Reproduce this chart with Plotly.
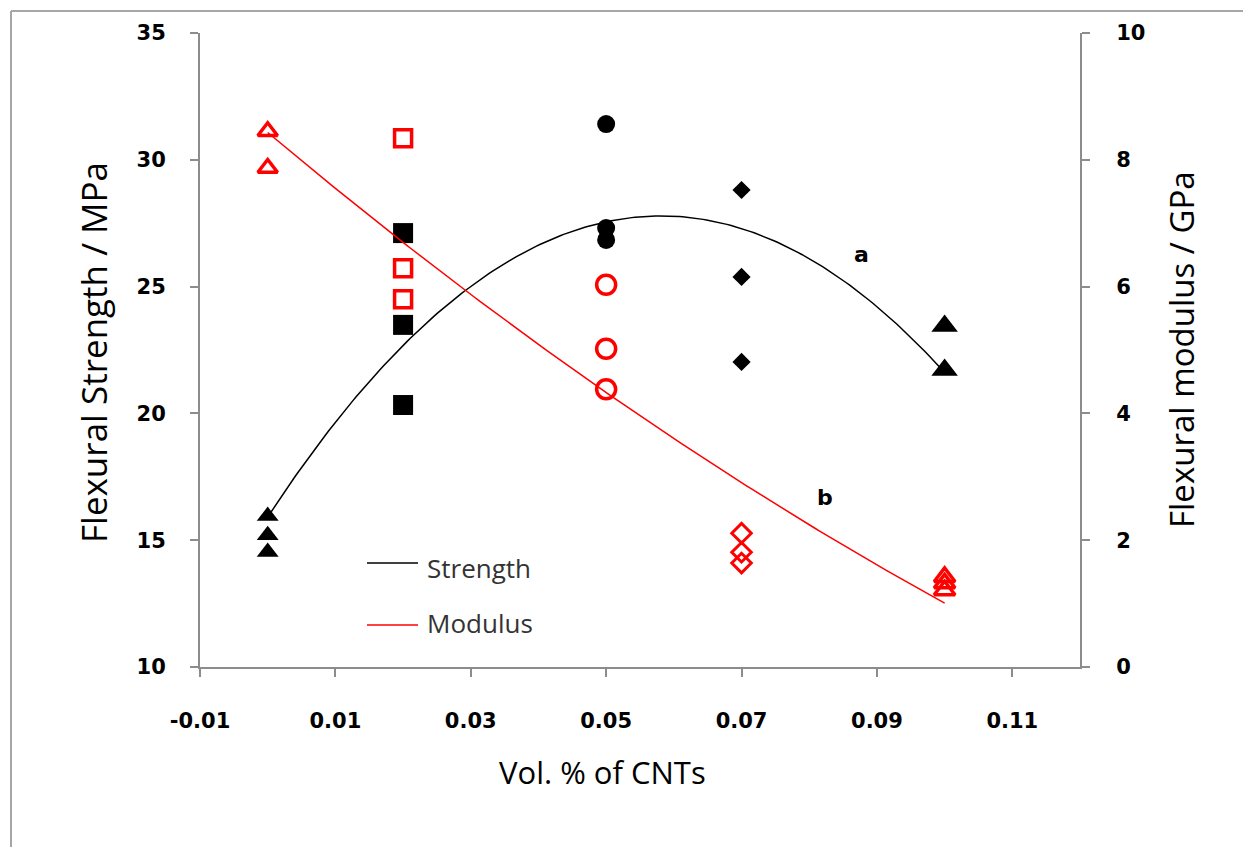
import numpy as np
import plotly.graph_objects as go

# ---------------- data ----------------
# Flexural strength (MPa), left axis
s_x_tri0 = [0, 0, 0]
s_y_tri0 = [15.95, 15.2, 14.53]
s_x_sq = [0.02, 0.02, 0.02]
s_y_sq = [27.11, 23.49, 20.33]
s_x_ci = [0.05, 0.05, 0.05]
s_y_ci = [31.41, 27.31, 26.84]
s_x_di = [0.07, 0.07, 0.07]
s_y_di = [28.81, 25.38, 22.03]
s_x_tri1 = [0.1, 0.1]
s_y_tri1 = [23.45, 21.71]

# Flexural modulus (GPa), right axis
m_x_tri0 = [0, 0]
m_y_tri0 = [8.45, 7.87]
m_x_sq = [0.02, 0.02, 0.02]
m_y_sq = [8.34, 6.29, 5.80]
m_x_ci = [0.05, 0.05, 0.05]
m_y_ci = [6.03, 5.02, 4.38]
m_x_di = [0.07, 0.07, 0.07]
m_y_di = [2.11, 1.81, 1.64]
m_x_tri1 = [0.1, 0.1, 0.1]
m_y_tri1 = [1.42, 1.32, 1.21]

x_ticks = [-0.01, 0.01, 0.03, 0.05, 0.07, 0.09, 0.11]
x_tick_text = ["-0.01", "0.01", "0.03", "0.05", "0.07", "0.09", "0.11"]
y1_ticks = [10, 15, 20, 25, 30, 35]
y2_ticks = [0, 2, 4, 6, 8, 10]

# ---------------- trend lines (2nd order polynomial fits) ----------------
sx_all = s_x_tri0 + s_x_sq + s_x_ci + s_x_di + s_x_tri1
sy_all = s_y_tri0 + s_y_sq + s_y_ci + s_y_di + s_y_tri1
mx_all = m_x_tri0 + m_x_sq + m_x_ci + m_x_di + m_x_tri1
my_all = m_y_tri0 + m_y_sq + m_y_ci + m_y_di + m_y_tri1
s_fit = np.poly1d(np.polyfit(sx_all, sy_all, 2))
m_fit = np.poly1d(np.polyfit(mx_all, my_all, 2))
xf = np.linspace(min(sx_all), max(sx_all), 200)

fig = go.Figure()

BLACK = "#000000"
RED = "#ff0000"

def filled(x, y, symbol, size):
    fig.add_trace(go.Scatter(x=x, y=y, mode="markers", showlegend=False,
                             marker=dict(symbol=symbol, size=size, color=BLACK,
                                         line=dict(width=0))))

def hollow(x, y, symbol, size, lw=3.5):
    fig.add_trace(go.Scatter(x=x, y=y, mode="markers", yaxis="y2", showlegend=False,
                             marker=dict(symbol=symbol + "-open", size=size, color=RED,
                                         line=dict(width=lw, color=RED))))

# trend lines
fig.add_trace(go.Scatter(x=xf, y=s_fit(xf), mode="lines", name="Strength",
                         showlegend=False, line=dict(color=BLACK, width=1.5)))
fig.add_trace(go.Scatter(x=xf, y=m_fit(xf), mode="lines", name="Modulus", yaxis="y2",
                         showlegend=False, line=dict(color=RED, width=1.5)))

filled(s_x_tri0, s_y_tri0, "triangle-up", 19)
filled(s_x_sq, s_y_sq, "square", 20)
filled(s_x_ci, s_y_ci, "circle", 18)
filled(s_x_di, s_y_di, "diamond", 14)
filled(s_x_tri1, s_y_tri1, "triangle-up", 23)

hollow(m_x_tri0, m_y_tri0, "triangle-up", 17)
hollow(m_x_sq, m_y_sq, "square", 17)
hollow(m_x_ci, m_y_ci, "circle", 19)
hollow(m_x_di, m_y_di, "diamond", 15, 3)
hollow(m_x_tri1, m_y_tri1, "triangle-up", 18)

AX = "#8c8c8c"
TICKFONT = dict(family="DejaVu Sans", size=21, color="#000000", weight="bold")

fig.update_layout(
    width=1243, height=847,
    margin=dict(l=200, r=163, t=33, b=180),
    paper_bgcolor="white", plot_bgcolor="white",
    xaxis=dict(range=[-0.01, 0.12], tickvals=x_ticks, ticktext=x_tick_text,
               showline=True, linecolor=AX, linewidth=2, ticks="outside",
               ticklen=8, tickwidth=2, tickcolor=AX, showgrid=False, zeroline=False,
               tickfont=TICKFONT, ticklabelstandoff=26),
    yaxis=dict(range=[10, 35], tickvals=y1_ticks, showline=True, linecolor=AX,
               linewidth=2, ticks="outside", ticklen=8, tickwidth=2, tickcolor=AX,
               showgrid=False, zeroline=False, tickfont=TICKFONT, ticklabelstandoff=20),
    yaxis2=dict(range=[0, 10], tickvals=y2_ticks, overlaying="y", side="right",
                anchor="x", showline=True, linecolor=AX, linewidth=2, ticks="outside",
                ticklen=8, tickwidth=2, tickcolor=AX, showgrid=False, zeroline=False,
                tickfont=TICKFONT, ticklabelstandoff=22),
    showlegend=False,
)

LTFONT = dict(family="Open Sans", size=35, color="#000000")
RTFONT = dict(family="Open Sans", size=33, color="#000000")
HFONT = dict(family="Open Sans", size=31, color="#000000")
LFONT = dict(family="Open Sans", size=26, color="#333333")
ann = [
    dict(text="Vol. % of CNTs", x=(602 - 200) / 880, y=(667 - 772) / 634, xref="paper",
         yref="paper", showarrow=False, font=HFONT, xanchor="center", yanchor="middle"),
    dict(text="Flexural Strength / MPa", x=(93 - 200) / 880, y=(667 - 353) / 634,
         xref="paper", yref="paper", showarrow=False, font=LTFONT, textangle=-90,
         xanchor="center", yanchor="middle"),
    dict(text="Flexural modulus / GPa", x=(1181 - 200) / 880, y=(667 - 350) / 634,
         xref="paper", yref="paper", showarrow=False, font=RTFONT, textangle=-90,
         xanchor="center", yanchor="middle"),
    dict(text="a", x=0.0877, y=26.25, xref="x", yref="y", showarrow=False,
         font=dict(family="DejaVu Sans", size=22, color="#000", weight="bold")),
    dict(text="b", x=0.0823, y=16.7, xref="x", yref="y", showarrow=False,
         font=dict(family="DejaVu Sans", size=22, color="#000", weight="bold")),
    dict(text="Strength", x=(425 - 200) / 880, y=(667 - 568) / 634, xref="paper",
         yref="paper", showarrow=False, xanchor="left", yanchor="middle", font=LFONT),
    dict(text="Modulus", x=(425 - 200) / 880, y=(667 - 623) / 634, xref="paper",
         yref="paper", showarrow=False, xanchor="left", yanchor="middle", font=LFONT),
]
fig.update_layout(annotations=ann)

BORDER = dict(color="#a6a6a6", width=2)
shapes = [
    # outer chart border (left and top edges visible in the reference)
    dict(type="line", xref="paper", yref="paper", x0=(11 - 200) / 880,
         x1=(11 - 200) / 880, y0=(667 - 860) / 634, y1=(667 - 11) / 634, line=BORDER),
    dict(type="line", xref="paper", yref="paper", x0=(11 - 200) / 880,
         x1=(1250 - 200) / 880, y0=(667 - 11) / 634, y1=(667 - 11) / 634, line=BORDER),
    # legend keys
    dict(type="line", xref="paper", yref="paper", x0=(367 - 200) / 880,
         x1=(418 - 200) / 880, y0=(667 - 563) / 634, y1=(667 - 563) / 634,
         line=dict(color=BLACK, width=1.5)),
    dict(type="line", xref="paper", yref="paper", x0=(367 - 200) / 880,
         x1=(418 - 200) / 880, y0=(667 - 625) / 634, y1=(667 - 625) / 634,
         line=dict(color=RED, width=1.5)),
]
fig.update_layout(shapes=shapes)

fig.write_html("out.html")
